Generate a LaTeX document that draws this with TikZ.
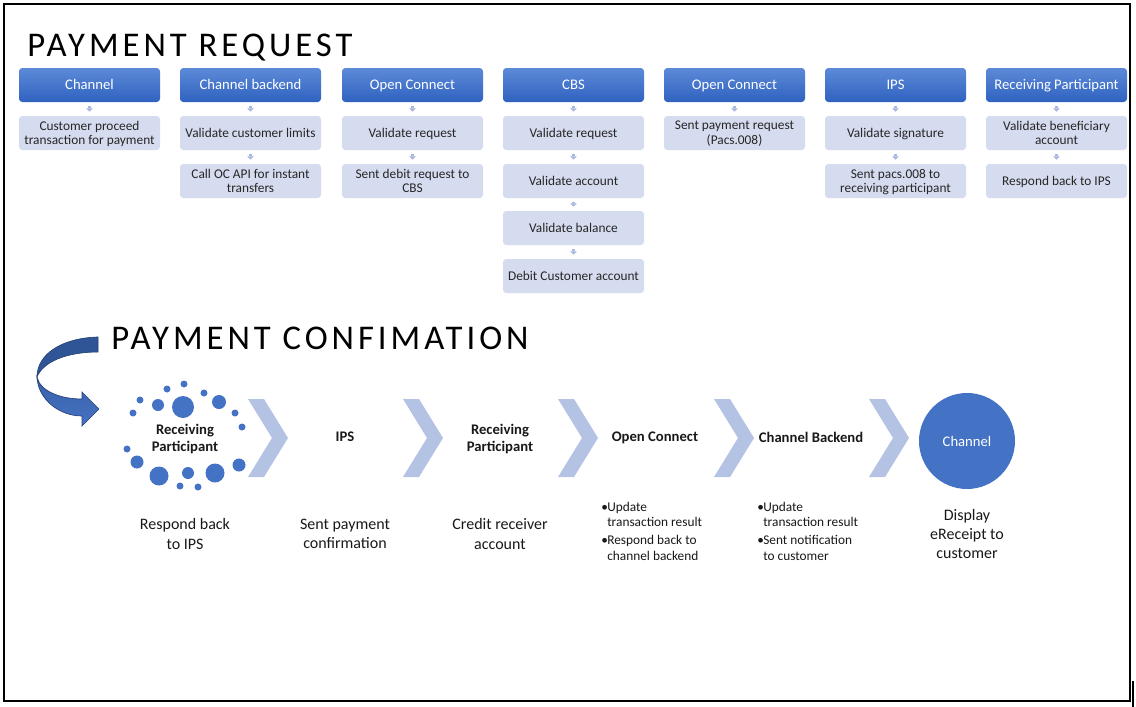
\documentclass[tikz,border=0pt]{standalone}
\usepackage{fontspec}
\setmainfont{Carlito}
\newfontfamily\titlefont[LetterSpace=11.5]{Carlito}
\usetikzlibrary{arrows.meta,positioning}

\definecolor{hdrtop}{RGB}{93,138,216}
\definecolor{hdrbot}{RGB}{47,98,192}
\definecolor{stepfill}{RGB}{214,220,239}
\definecolor{linkblue}{RGB}{168,184,224}
\definecolor{chevblue}{RGB}{180,194,228}
\definecolor{dotblue}{RGB}{68,114,196}
\definecolor{arrowdark}{RGB}{47,85,151}
\definecolor{arrowedge}{RGB}{38,64,120}

\newcommand{\itm}{\makebox[4.5pt][l]{•}}

\tikzset{
  lane/.style={rounded corners=2.5pt, top color=hdrtop, bottom color=hdrbot, text=white,
    minimum width=105.75pt, minimum height=25.5pt, inner sep=1pt, text height=9.5pt,
    text depth=2.5pt, font=\fontsize{11}{12}\selectfont},
  stepbox/.style={rounded corners=2.5pt, fill=stepfill, text=black!85, minimum width=105.75pt,
    minimum height=25.5pt, align=center, inner sep=1pt, text depth=0pt,
    font=\fontsize{10}{11}\selectfont},
  link/.style={draw=linkblue, line width=2.2pt, -{Triangle[width=5pt,length=2.6pt]},
    shorten <=3pt, shorten >=3pt},
  stage/.style={font=\bfseries\fontsize{11}{12.5}\selectfont, align=center, text=black!90,
    text depth=0pt},
  result/.style={font=\fontsize{12}{14.4}\selectfont, align=center, text=black!90},
  bullets/.style={font=\fontsize{10}{11.5}\selectfont, align=left, anchor=north west,
    inner sep=0pt, text=black!90},
  sectitle/.style={font=\titlefont\fontsize{26}{26}\selectfont, anchor=base west, inner sep=0pt},
  chev/.style={fill=chevblue},
  dot/.style={fill=dotblue},
}

\begin{document}
\begin{tikzpicture}[x=0.75pt, y=-0.75pt]

% page and frame
\useasboundingbox (0,0) rectangle (1136,707);
\fill[white] (0,0) rectangle (1136,707);
\draw[line width=2pt] (4,4) rectangle (1130,701);
\draw[line width=0.8pt] (1133,681) -- (1133,707);

% Payment request
\node[sectitle] (reqtitle) at (27,56) {PAYMENT REQUEST};

\node[lane] (chan) at (89.5,85) {Channel};
\node[stepbox] (chan1) at (89.5,133) {Customer proceed\\transaction for payment};
\draw[link] (chan) -- (chan1);

\node[lane] (chanbe) at (250.5,85) {Channel backend};
\node[stepbox] (chanbe1) at (250.5,133) {Validate customer limits};
\node[stepbox] (chanbe2) at (250.5,181) {Call OC API for instant\\transfers};
\draw[link] (chanbe) -- (chanbe1);
\draw[link] (chanbe1) -- (chanbe2);

\node[lane] (ocreq) at (412.5,85) {Open Connect};
\node[stepbox] (ocreq1) at (412.5,133) {Validate request};
\node[stepbox] (ocreq2) at (412.5,181) {Sent debit request to\\CBS};
\draw[link] (ocreq) -- (ocreq1);
\draw[link] (ocreq1) -- (ocreq2);

\node[lane] (cbs) at (573.5,85) {CBS};
\node[stepbox] (cbs1) at (573.5,133) {Validate request};
\node[stepbox] (cbs2) at (573.5,181) {Validate account};
\node[stepbox] (cbs3) at (573.5,228) {Validate balance};
\node[stepbox] (cbs4) at (573.5,276) {Debit Customer account};
\draw[link] (cbs) -- (cbs1);
\draw[link] (cbs1) -- (cbs2);
\draw[link] (cbs2) -- (cbs3);
\draw[link] (cbs3) -- (cbs4);

\node[lane] (ocpay) at (734.5,85) {Open Connect};
\node[stepbox] (ocpay1) at (734.5,133) {Sent payment request\\(Pacs.008)};
\draw[link] (ocpay) -- (ocpay1);

\node[lane] (ips) at (895.5,85) {IPS};
\node[stepbox] (ips1) at (895.5,133) {Validate signature};
\node[stepbox] (ips2) at (895.5,181) {Sent pacs.008 to\\receiving participant};
\draw[link] (ips) -- (ips1);
\draw[link] (ips1) -- (ips2);

\node[lane] (recv) at (1056.5,85) {Receiving Participant};
\node[stepbox] (recv1) at (1056.5,133) {Validate beneficiary\\account};
\node[stepbox] (recv2) at (1056.5,181) {Respond back to IPS};
\draw[link] (recv) -- (recv1);
\draw[link] (recv1) -- (recv2);

% Payment confirmation
\node[sectitle] (conftitle) at (111,349) {PAYMENT CONFIMATION};

% curved arrow, back part then front part
\fill[arrowdark, draw=arrowedge, line width=0.5pt] (98,337) .. controls (62,338) and (37,354) .. (37,377)
  .. controls (43,362) and (66,352) .. (98,352) -- cycle;
\shade[top color=dotblue!85!black, bottom color=dotblue, draw=arrowedge, line width=0.5pt]
  (37,377) .. controls (38,400) and (60,416) .. (82,416) -- (82,426) -- (99,409) -- (82,392)
  -- (82,399) .. controls (60,399) and (40,391) .. (37,377) -- cycle;

% ring of dots
\fill[dot] (184,384) circle (3.5);
\fill[dot] (167,389) circle (3.5);
\fill[dot] (204,393) circle (3.5);
\fill[dot] (140,400) circle (3.5);
\fill[dot] (158,405) circle (6);
\fill[dot] (183,407) circle (11);
\fill[dot] (219,402) circle (7);
\fill[dot] (133,413) circle (3.5);
\fill[dot] (235,413) circle (3.5);
\fill[dot] (242,427) circle (3.5);
\fill[dot] (127,449) circle (3.5);
\fill[dot] (137,462) circle (6.5);
\fill[dot] (159,476) circle (9.5);
\fill[dot] (188,473) circle (6);
\fill[dot] (215,473) circle (9.5);
\fill[dot] (239,465) circle (6.5);
\fill[dot] (180,486) circle (3.5);
\fill[dot] (198,487) circle (3.5);

% chevrons
\fill[chev, shift={(248,0)}] (0,399) -- (16,399) -- (40,438) -- (16,477) -- (0,477) -- (24,438) -- cycle;
\fill[chev, shift={(403,0)}] (0,399) -- (16,399) -- (40,438) -- (16,477) -- (0,477) -- (24,438) -- cycle;
\fill[chev, shift={(558,0)}] (0,399) -- (16,399) -- (40,438) -- (16,477) -- (0,477) -- (24,438) -- cycle;
\fill[chev, shift={(714,0)}] (0,399) -- (16,399) -- (40,438) -- (16,477) -- (0,477) -- (24,438) -- cycle;
\fill[chev, shift={(869,0)}] (0,399) -- (16,399) -- (40,438) -- (16,477) -- (0,477) -- (24,438) -- cycle;

\node[stage] (rpstart) at (185,438) {Receiving\\Participant};
\node[stage] (ipsok) at (345,437) {IPS};
\node[stage] (rpcredit) at (500,438) {Receiving\\Participant};
\node[stage] (ocok) at (655,437) {Open Connect};
\node[stage] (cbok) at (811,437) {Channel Backend};
\node[circle, fill=dotblue, minimum size=72pt, text=white, font=\fontsize{11}{12}\selectfont] (chanok) at (967,441) {Channel};

\node[result] (rpstarttxt) at (185,534) {Respond back\\to IPS};
\node[result] (ipsoktxt) at (345,534) {Sent payment\\confirmation};
\node[result] (rpcredittxt) at (500,534) {Credit receiver\\account};
\node[bullets] (ocoktxt) at (601,502) {\itm Update\\\hspace*{4.5pt}transaction result\\[2pt]\itm Respond back to\\\hspace*{4.5pt}channel backend};
\node[bullets] (cboktxt) at (757,502) {\itm Update\\\hspace*{4.5pt}transaction result\\[2pt]\itm Sent notification\\\hspace*{4.5pt}to customer};
\node[result] (chanoktxt) at (967,534) {Display\\eReceipt to\\customer};

\end{tikzpicture}
\end{document}
